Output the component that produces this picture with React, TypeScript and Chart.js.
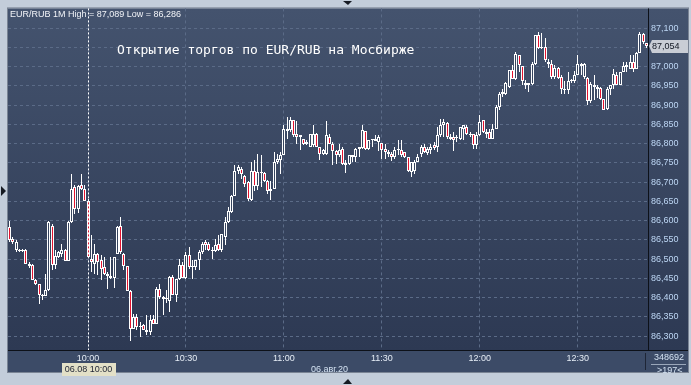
import React, { useEffect, useRef } from 'react';
import { Chart, registerables } from 'chart.js';

Chart.register(...registerables);

// ---------- data ----------
const SESSION_START = '09:36';
const BAR_COUNT = 196;
const TIMES: string[] = (() => {
  const [h0, m0] = SESSION_START.split(':').map(Number);
  const out: string[] = [];
  for (let i = 0; i < BAR_COUNT; i++) {
    const m = h0 * 60 + m0 + i;
    out.push(String(Math.floor(m / 60)).padStart(2, '0') + ':' + String(m % 60).padStart(2, '0'));
  }
  return out;
})();

const OPEN = [
  86.583, 86.553, 86.523, 86.524, 86.521, 86.523, 86.488, 86.484, 86.445, 86.434,
  86.405, 86.405, 86.419, 86.587, 86.484, 86.505, 86.514, 86.523, 86.494, 86.596,
  86.687, 86.631, 86.692, 86.683, 86.652, 86.501, 86.488, 86.514, 86.497, 86.479,
  86.462, 86.455, 86.452, 86.514, 86.587, 86.514, 86.481, 86.417, 86.319, 86.349,
  86.323, 86.328, 86.315, 86.310, 86.345, 86.332, 86.423, 86.401, 86.395, 86.390,
  86.453, 86.407, 86.449, 86.484, 86.451, 86.511, 86.481, 86.479, 86.497, 86.518,
  86.544, 86.538, 86.524, 86.521, 86.538, 86.523, 86.557, 86.596, 86.622, 86.665,
  86.730, 86.734, 86.717, 86.700, 86.654, 86.728, 86.691, 86.726, 86.723, 86.704,
  86.678, 86.682, 86.752, 86.756, 86.769, 86.838, 86.834, 86.861, 86.825, 86.821,
  86.812, 86.799, 86.792, 86.795, 86.825, 86.790, 86.773, 86.773, 86.818, 86.799,
  86.780, 86.769, 86.786, 86.750, 86.747, 86.769, 86.766, 86.786, 86.789, 86.832,
  86.786, 86.808, 86.806, 86.803, 86.801, 86.786, 86.777, 86.773, 86.766, 86.784,
  86.784, 86.777, 86.765, 86.726, 86.728, 86.752, 86.773, 86.790, 86.775, 86.784,
  86.795, 86.790, 86.821, 86.847, 86.854, 86.817, 86.817, 86.814, 86.813, 86.839,
  86.843, 86.826, 86.826, 86.797, 86.821, 86.860, 86.830, 86.830, 86.813, 86.839,
  86.895, 86.930, 86.930, 86.947, 86.990, 86.968, 87.029, 87.001, 86.958, 86.953,
  86.955, 87.007, 87.081, 87.048, 87.051, 87.013, 87.007, 86.973, 86.996, 86.973,
  86.941, 86.938, 86.962, 86.962, 86.977, 87.007, 86.973, 86.970, 86.910, 86.951,
  86.947, 86.944, 86.915, 86.889, 86.942, 86.951, 86.977, 86.953, 86.986, 86.999,
  86.994, 87.013, 86.994, 87.036, 87.085, 87.062,
];

const HIGH = [
  86.600, 86.556, 86.549, 86.526, 86.525, 86.527, 86.492, 86.486, 86.447, 86.436,
  86.410, 86.462, 86.598, 86.590, 86.523, 86.520, 86.540, 86.527, 86.598, 86.722,
  86.692, 86.692, 86.722, 86.692, 86.655, 86.562, 86.540, 86.516, 86.510, 86.505,
  86.466, 86.505, 86.505, 86.587, 86.609, 86.516, 86.483, 86.419, 86.358, 86.358,
  86.336, 86.332, 86.354, 86.354, 86.354, 86.427, 86.436, 86.403, 86.419, 86.455,
  86.458, 86.449, 86.501, 86.492, 86.518, 86.531, 86.497, 86.497, 86.523, 86.544,
  86.549, 86.544, 86.531, 86.553, 86.562, 86.566, 86.609, 86.635, 86.667, 86.743,
  86.743, 86.739, 86.719, 86.702, 86.752, 86.756, 86.773, 86.771, 86.726, 86.706,
  86.704, 86.777, 86.773, 86.777, 86.847, 86.868, 86.870, 86.861, 86.858, 86.821,
  86.812, 86.808, 86.825, 86.849, 86.827, 86.790, 86.786, 86.858, 86.825, 86.803,
  86.782, 86.799, 86.790, 86.756, 86.771, 86.771, 86.789, 86.790, 86.847, 86.832,
  86.810, 86.812, 86.823, 86.823, 86.801, 86.799, 86.784, 86.777, 86.790, 86.810,
  86.808, 86.777, 86.766, 86.752, 86.756, 86.773, 86.795, 86.799, 86.790, 86.799,
  86.803, 86.842, 86.865, 86.865, 86.856, 86.826, 86.830, 86.821, 86.843, 86.847,
  86.847, 86.830, 86.826, 86.830, 86.875, 86.860, 86.839, 86.837, 86.852, 86.899,
  86.934, 86.942, 86.960, 86.990, 87.005, 87.039, 87.031, 87.001, 86.964, 86.958,
  87.012, 87.083, 87.089, 87.086, 87.074, 87.020, 87.016, 87.005, 86.999, 86.977,
  86.962, 86.986, 86.968, 86.988, 87.031, 87.010, 87.010, 86.973, 86.960, 86.977,
  86.953, 86.947, 86.915, 86.947, 86.953, 86.994, 86.986, 86.986, 87.013, 87.013,
  87.029, 87.029, 87.039, 87.089, 87.087, 87.062,
];

const LOW = [
  86.545, 86.540, 86.518, 86.519, 86.518, 86.488, 86.478, 86.445, 86.432, 86.382,
  86.393, 86.403, 86.417, 86.471, 86.475, 86.503, 86.505, 86.494, 86.494, 86.594,
  86.618, 86.620, 86.679, 86.652, 86.505, 86.466, 86.462, 86.458, 86.445, 86.458,
  86.423, 86.449, 86.426, 86.514, 86.514, 86.471, 86.417, 86.286, 86.317, 86.315,
  86.297, 86.315, 86.302, 86.302, 86.332, 86.330, 86.397, 86.354, 86.386, 86.362,
  86.406, 86.388, 86.445, 86.450, 86.449, 86.475, 86.449, 86.471, 86.471, 86.514,
  86.523, 86.521, 86.501, 86.518, 86.521, 86.518, 86.536, 86.594, 86.620, 86.663,
  86.721, 86.708, 86.687, 86.652, 86.652, 86.678, 86.680, 86.687, 86.700, 86.669,
  86.654, 86.682, 86.747, 86.721, 86.769, 86.812, 86.829, 86.816, 86.799, 86.782,
  86.795, 86.795, 86.792, 86.790, 86.790, 86.756, 86.769, 86.769, 86.799, 86.743,
  86.747, 86.765, 86.743, 86.723, 86.745, 86.752, 86.752, 86.766, 86.786, 86.784,
  86.784, 86.790, 86.806, 86.780, 86.760, 86.760, 86.765, 86.754, 86.760, 86.769,
  86.766, 86.763, 86.726, 86.714, 86.721, 86.752, 86.765, 86.775, 86.769, 86.773,
  86.782, 86.777, 86.817, 86.817, 86.813, 86.808, 86.780, 86.804, 86.808, 86.808,
  86.821, 86.817, 86.785, 86.785, 86.820, 86.828, 86.814, 86.811, 86.811, 86.839,
  86.886, 86.921, 86.925, 86.945, 86.967, 86.964, 86.986, 86.951, 86.942, 86.934,
  86.951, 87.005, 87.046, 87.046, 87.013, 86.996, 86.968, 86.967, 86.968, 86.930,
  86.930, 86.930, 86.958, 86.958, 86.977, 86.977, 86.967, 86.901, 86.906, 86.912,
  86.918, 86.912, 86.886, 86.886, 86.925, 86.942, 86.951, 86.951, 86.986, 86.986,
  86.993, 86.986, 86.993, 87.036, 87.059, 87.048,
];

const CLOSE = [
  86.549, 86.544, 86.544, 86.521, 86.523, 86.488, 86.481, 86.445, 86.434, 86.406,
  86.407, 86.420, 86.596, 86.484, 86.507, 86.518, 86.523, 86.494, 86.596, 86.683,
  86.631, 86.690, 86.683, 86.652, 86.505, 86.492, 86.514, 86.492, 86.475, 86.462,
  86.455, 86.452, 86.505, 86.583, 86.518, 86.481, 86.417, 86.319, 86.349, 86.323,
  86.326, 86.315, 86.310, 86.342, 86.332, 86.423, 86.401, 86.395, 86.397, 86.453,
  86.407, 86.449, 86.484, 86.451, 86.510, 86.479, 86.479, 86.497, 86.518, 86.540,
  86.536, 86.523, 86.521, 86.536, 86.523, 86.566, 86.596, 86.626, 86.665, 86.730,
  86.739, 86.721, 86.695, 86.656, 86.730, 86.691, 86.726, 86.724, 86.704, 86.678,
  86.682, 86.752, 86.760, 86.769, 86.838, 86.832, 86.860, 86.821, 86.818, 86.816,
  86.799, 86.803, 86.825, 86.825, 86.790, 86.773, 86.782, 86.821, 86.799, 86.780,
  86.769, 86.782, 86.747, 86.745, 86.769, 86.766, 86.786, 86.790, 86.835, 86.786,
  86.808, 86.810, 86.812, 86.816, 86.784, 86.777, 86.773, 86.766, 86.784, 86.782,
  86.769, 86.765, 86.728, 86.752, 86.752, 86.766, 86.790, 86.777, 86.786, 86.790,
  86.789, 86.821, 86.849, 86.856, 86.817, 86.813, 86.808, 86.817, 86.843, 86.847,
  86.826, 86.821, 86.795, 86.821, 86.856, 86.830, 86.826, 86.813, 86.839, 86.895,
  86.930, 86.934, 86.958, 86.990, 86.968, 87.033, 87.003, 86.962, 86.953, 86.958,
  87.007, 87.083, 87.048, 87.051, 87.016, 87.007, 86.973, 86.996, 86.970, 86.941,
  86.938, 86.962, 86.962, 86.979, 87.007, 87.001, 87.007, 86.910, 86.955, 86.947,
  86.942, 86.915, 86.888, 86.942, 86.951, 86.981, 86.953, 86.986, 87.001, 87.005,
  87.013, 86.994, 87.036, 87.085, 87.065, 87.054,
];

const Y_TICKS = [
  86.3, 86.35, 86.4, 86.45, 86.5, 86.55, 86.6, 86.65, 86.7,
  86.75, 86.8, 86.85, 86.9, 86.95, 87.0, 87.05, 87.1,
];
const X_TICK_LABELS = ['10:00', '10:30', '11:00', '11:30', '12:00', '12:30'];
const CROSSHAIR_TIME = '10:00';
const CROSSHAIR_LABEL = '06.08 10:00';
const Y_MIN = 86.2637;
const Y_MAX = 87.1511;

const INFO_TEXT = 'EUR/RUB 1M High = 87,089 Low = 86,286';
const TITLE_TEXT = 'Открытие торгов по EUR/RUB на Мосбирже';
const DATE_TEXT = '06.авг.20';
const VOLUME_TEXT = '348692';
const BARS_TEXT = '>197<';

// ---------- styles ----------
const FONT = "'Liberation Sans', Arial, sans-serif";
const RED = '#e3132f';
const HOLLOW = '#37455f';
const GRID = '#5b6b87';
const fmt = (v: number) => v.toFixed(3).replace('.', ',');

const decorPlugin = {
  id: 'decor',
  beforeDraw(chart: any) {
    const { ctx, chartArea: a, width, height } = chart;
    const right = chart.scales.y.right;
    const bottom = chart.scales.x.bottom;
    ctx.save();
    ctx.fillStyle = '#c3cdda';
    ctx.fillRect(0, 0, width, height);
    ctx.fillStyle = '#3c4b67';
    ctx.fillRect(a.left, a.bottom, right - a.left, bottom - a.bottom);
    const g = ctx.createLinearGradient(0, a.top, 0, a.bottom);
    g.addColorStop(0, '#44536e');
    g.addColorStop(1, '#2d3953');
    ctx.fillStyle = g;
    ctx.fillRect(a.left, a.top, right - a.left, a.bottom - a.top);
    ctx.strokeStyle = '#7a8494';
    ctx.lineWidth = 1;
    ctx.strokeRect(a.left - 0.5, a.top - 0.5, right - a.left + 1, bottom - a.top + 1);
    ctx.restore();
  },
  afterDatasetsUpdate(chart: any) {
    chart.data.datasets.forEach((_: any, d: number) => {
      const meta = chart.getDatasetMeta(d);
      meta.data.forEach((el: any) => {
        el.x = Math.floor(el.x) + 0.5;
        let y = Math.round(el.y);
        const b = Math.round(el.base);
        if (Math.abs(y - b) < 1) y = b - 1;
        el.y = y;
        el.base = b;
      });
    });
  },
  afterDraw(chart: any) {
    const { ctx, chartArea: a } = chart;
    const xs = chart.scales.x;
    const ys = chart.scales.y;
    const right = ys.right;
    const bottom = xs.bottom;
    ctx.save();
    // axis separators
    ctx.strokeStyle = '#0d1119';
    ctx.lineWidth = 1;
    ctx.beginPath();
    ctx.moveTo(a.right + 0.5, a.top);
    ctx.lineTo(a.right + 0.5, a.bottom + 1);
    ctx.moveTo(a.left, a.bottom + 0.5);
    ctx.lineTo(right, a.bottom + 0.5);
    ctx.stroke();

    // crosshair
    const ci = TIMES.indexOf(CROSSHAIR_TIME);
    const cx = Math.floor(xs.getPixelForValue(ci)) + 0.5;
    ctx.strokeStyle = '#ffffff';
    ctx.setLineDash([2, 2]);
    ctx.beginPath();
    ctx.moveTo(cx, a.top);
    ctx.lineTo(cx, a.bottom);
    ctx.stroke();
    ctx.setLineDash([]);

    // crosshair date label
    ctx.font = `9px ${FONT}`;
    const tw = ctx.measureText(CROSSHAIR_LABEL).width + 6;
    ctx.fillStyle = '#e3e0c7';
    ctx.fillRect(Math.round(cx - tw / 2), 363, Math.round(tw), 13);
    ctx.fillStyle = '#1c2232';
    ctx.textAlign = 'center';
    ctx.textBaseline = 'middle';
    ctx.fillText(CROSSHAIR_LABEL, cx, 370);

    // last price tag
    const last = CLOSE[CLOSE.length - 1];
    const py = Math.round(ys.getPixelForValue(last));
    ctx.fillStyle = '#c9cdd5';
    ctx.beginPath();
    ctx.moveTo(a.right + 1, py);
    ctx.lineTo(a.right + 4, py - 6);
    ctx.lineTo(right, py - 6);
    ctx.lineTo(right, py + 7);
    ctx.lineTo(a.right + 4, py + 7);
    ctx.closePath();
    ctx.fill();
    ctx.fillStyle = '#111722';
    ctx.textAlign = 'left';
    ctx.fillText(fmt(last), a.right + 4, py + 1);

    // bottom-right box lines
    ctx.strokeStyle = '#1e2536';
    ctx.beginPath();
    ctx.moveTo(a.right - 2.5, a.bottom + 3);
    ctx.lineTo(a.right - 2.5, bottom - 2);
    ctx.stroke();
    ctx.strokeStyle = '#9aa7ba';
    ctx.beginPath();
    ctx.moveTo(a.right + 3, 364.5);
    ctx.lineTo(right - 2, 364.5);
    ctx.stroke();

    // frame triangles
    ctx.fillStyle = '#161a22';
    const mid = Math.round((a.left + right) / 2);
    ctx.beginPath();
    ctx.moveTo(mid - 5, 1); ctx.lineTo(mid + 4, 1); ctx.lineTo(mid, 5); ctx.closePath(); ctx.fill();
    ctx.beginPath();
    ctx.moveTo(mid - 5, 384); ctx.lineTo(mid + 4, 384); ctx.lineTo(mid, 379); ctx.closePath(); ctx.fill();
    const my = Math.round((a.top + a.bottom) / 2) + 12;
    ctx.beginPath();
    ctx.moveTo(1, my - 5); ctx.lineTo(1, my + 5); ctx.lineTo(6, my); ctx.closePath(); ctx.fill();
    ctx.restore();
  },
};

export default function App() {
  const canvasRef = useRef<HTMLCanvasElement | null>(null);

  useEffect(() => {
    const canvas = canvasRef.current;
    if (!canvas) return;
    const chart = new Chart(canvas, {
      type: 'bar',
      data: {
        labels: TIMES,
        datasets: [
          {
            label: 'body',
            data: OPEN.map((o, i) => [o, CLOSE[i]]) as any,
            backgroundColor: OPEN.map((o, i) => (CLOSE[i] < o ? RED : HOLLOW)),
            borderColor: '#ffffff',
            borderWidth: 1,
            borderSkipped: false,
            borderRadius: 0,
            barThickness: 3,
            grouped: false,
            inflateAmount: 0,
            order: 0,
          } as any,
          {
            label: 'wick',
            data: LOW.map((l, i) => [l, HIGH[i]]) as any,
            backgroundColor: '#ffffff',
            borderWidth: 0,
            barThickness: 1,
            grouped: false,
            inflateAmount: 0,
            order: 1,
          } as any,
        ],
      },
      options: {
        animation: false,
        responsive: false,
        maintainAspectRatio: false,
        events: [],
        layout: { padding: { left: 8, top: 8, right: 3, bottom: 13 } },
        plugins: {
          legend: { display: false },
          tooltip: { enabled: false },
          title: { display: false },
        },
        scales: {
          x: {
            type: 'category',
            offset: true,
            grid: { offset: false, color: GRID, lineWidth: 1, drawTicks: false, tickLength: 0 },
            border: { display: false, dash: [3, 3] },
            ticks: {
              autoSkip: false,
              maxRotation: 0,
              minRotation: 0,
              color: '#e6edf6',
              font: { family: FONT, size: 9 },
              padding: 3,
            },
            afterBuildTicks: (axis: any) => {
              axis.ticks = axis.ticks.filter((t: any) => X_TICK_LABELS.includes(TIMES[t.value]));
            },
            afterFit: (axis: any) => {
              axis.height = 22;
            },
          },
          y: {
            position: 'right',
            min: Y_MIN,
            max: Y_MAX,
            grid: { color: GRID, lineWidth: 1, drawTicks: false, tickLength: 0 },
            border: { display: false, dash: [3, 3] },
            ticks: {
              color: '#bdd6f4',
              font: { family: FONT, size: 9 },
              padding: 3,
              callback: (v: any) => fmt(Number(v)),
            },
            afterBuildTicks: (axis: any) => {
              axis.ticks = Y_TICKS.map((v) => ({ value: v }));
            },
            afterFit: (axis: any) => {
              axis.width = 40;
            },
          },
        },
      } as any,
      plugins: [decorPlugin],
    });
    return () => chart.destroy();
  }, []);

  const txt: React.CSSProperties = {
    position: 'absolute',
    fontFamily: FONT,
    fontSize: 9,
    lineHeight: '11px',
    whiteSpace: 'nowrap',
    pointerEvents: 'none',
  };

  return (
    <div style={{ position: 'fixed', left: 0, top: 0, width: 691, height: 385, overflow: 'hidden' }}>
      <canvas ref={canvasRef} width={691} height={385} style={{ position: 'absolute', left: 0, top: 0, width: 691, height: 385 }} />
      <div style={{ ...txt, left: 10, top: 9, color: '#f2f4f8' }}>{INFO_TEXT}</div>
      <div
        style={{
          ...txt,
          left: 117,
          top: 42,
          fontFamily: "'DejaVu Sans Mono', monospace",
          fontSize: 13,
          lineHeight: '15px',
          color: '#ffffff',
        }}
      >
        {TITLE_TEXT}
      </div>
      <div style={{ ...txt, left: 311, top: 364, color: '#d4e2f2' }}>{DATE_TEXT}</div>
      <div style={{ ...txt, left: 654, top: 352, color: '#d4e2f2' }}>{VOLUME_TEXT}</div>
      <div style={{ ...txt, left: 657, top: 365, color: '#d4e2f2' }}>{BARS_TEXT}</div>
    </div>
  );
}
